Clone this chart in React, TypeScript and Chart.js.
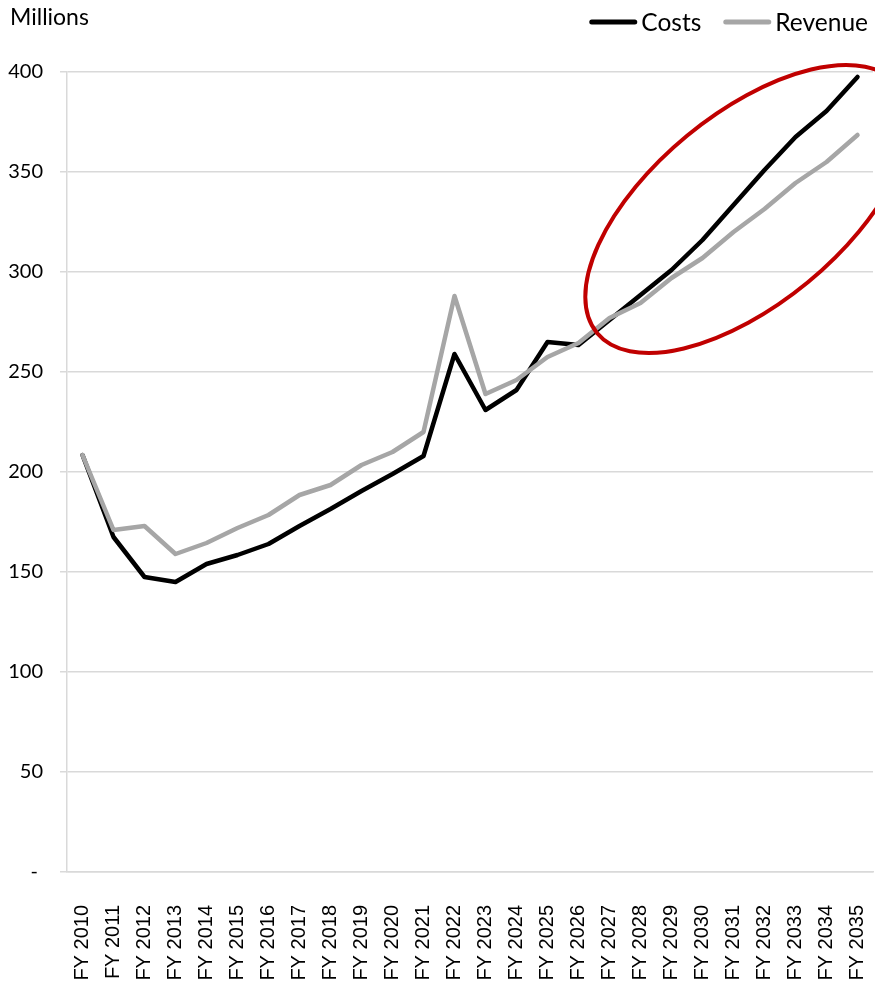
import React, { useEffect, useRef } from "react";
import { Chart, registerables } from "chart.js";

Chart.register(...registerables);

const years: string[] = [
  "FY 2010", "FY 2011", "FY 2012", "FY 2013", "FY 2014", "FY 2015", "FY 2016",
  "FY 2017", "FY 2018", "FY 2019", "FY 2020", "FY 2021", "FY 2022", "FY 2023",
  "FY 2024", "FY 2025", "FY 2026", "FY 2027", "FY 2028", "FY 2029", "FY 2030",
  "FY 2031", "FY 2032", "FY 2033", "FY 2034", "FY 2035",
];

const costs: number[] = [
  208.5, 167.5, 147.5, 145, 154, 158.5, 164, 173, 181.5, 190.5, 199, 208,
  259, 231, 241, 265, 263.5, 276, 288.5, 301, 316, 333.5, 351, 367.5, 380.5, 397.5,
];

const revenue: number[] = [
  208.5, 171, 173, 159, 164.5, 172, 178.5, 188.5, 193.5, 203.5, 210, 220,
  288, 239, 246, 257.5, 264.5, 277, 284.5, 297, 307, 320, 331.5, 344.5, 355, 368.5,
];

const yTicks: number[] = [0, 50, 100, 150, 200, 250, 300, 350, 400];
const yAxisTitle = "Millions";

// highlight ellipse annotation (center in data units)
const highlight = { xIndex: 21.45, yValue: 331.5 };

const ellipsePlugin = {
  id: "highlightEllipse",
  afterDatasetsDraw(chart: any) {
    const { ctx, scales } = chart;
    const cx = scales.x.getPixelForValue(highlight.xIndex);
    const cy = scales.y.getPixelForValue(highlight.yValue);
    ctx.save();
    ctx.beginPath();
    ctx.ellipse(cx, cy, 195, 95, (-39.5 * Math.PI) / 180, 0, Math.PI * 2);
    ctx.strokeStyle = "#C00000";
    ctx.lineWidth = 4;
    ctx.stroke();
    ctx.restore();
  },
};

const titlePlugin = {
  id: "yTitle",
  afterDraw(chart: any) {
    const { ctx } = chart;
    ctx.save();
    ctx.font = "23px Lato";
    ctx.fillStyle = "#000";
    ctx.textAlign = "left";
    ctx.textBaseline = "middle";
    ctx.fillText(yAxisTitle, 10, 18);
    ctx.restore();
  },
};

// custom legend: right aligned, line sample + label
const legendPlugin = {
  id: "customLegend",
  afterDraw(chart: any) {
    const { ctx } = chart;
    const ds = chart.data.datasets;
    const lineLen = 48;
    const gapText = 4;
    const gapItems = 22;
    const y = 22;
    ctx.save();
    ctx.font = "24.5px Lato";
    ctx.textBaseline = "middle";
    ctx.textAlign = "left";
    let x = chart.width - 7;
    const widths = ds.map((d: any) => ctx.measureText(d.label).width);
    for (let i = ds.length - 1; i >= 0; i--) {
      const tw = widths[i];
      const textX = x - tw;
      const lineEnd = textX - gapText;
      const lineStart = lineEnd - lineLen;
      ctx.beginPath();
      ctx.moveTo(lineStart + 2.5, y);
      ctx.lineTo(lineEnd - 2.5, y);
      ctx.strokeStyle = ds[i].borderColor;
      ctx.lineWidth = 5;
      ctx.lineCap = "round";
      ctx.stroke();
      ctx.fillStyle = "#000";
      ctx.fillText(ds[i].label, textX, y + 1);
      x = lineStart - gapItems;
    }
    ctx.restore();
  },
};

export default function App() {
  const ref = useRef<HTMLCanvasElement | null>(null);

  useEffect(() => {
    if (!ref.current) return;
    const chart = new Chart(ref.current, {
      type: "line",
      data: {
        labels: years,
        datasets: [
          {
            label: "Costs",
            data: costs,
            borderColor: "#000000",
            backgroundColor: "#000000",
            borderWidth: 4.5,
            pointRadius: 0,
            tension: 0,
            borderCapStyle: "round",
            borderJoinStyle: "round",
            order: 1,
          },
          {
            label: "Revenue",
            data: revenue,
            borderColor: "#A6A6A6",
            backgroundColor: "#A6A6A6",
            borderWidth: 4.5,
            pointRadius: 0,
            tension: 0,
            borderCapStyle: "round",
            borderJoinStyle: "round",
            order: 0,
          },
        ],
      },
      options: {
        animation: false,
        responsive: false,
        maintainAspectRatio: false,
        layout: { padding: { top: 0, right: 2, left: 0, bottom: 0 } },
        plugins: {
          legend: { display: false },
          tooltip: { enabled: false },
        },
        scales: {
          x: {
            type: "category",
            offset: true,
            grid: { display: false, drawTicks: false },
            border: { display: true, color: "#d9d9d9", width: 1.5 },
            ticks: {
              minRotation: 90,
              maxRotation: 90,
              autoSkip: false,
              padding: 33,
              color: "#000",
              font: { family: "Liberation Sans", size: 20 },
            },
            afterFit(scale: any) {
              scale.height = 115;
              scale.paddingLeft = 0;
              scale.paddingRight = 0;
            },
          },
          y: {
            min: 0,
            max: 400,
            afterBuildTicks(scale: any) {
              scale.ticks = yTicks.map((v) => ({ value: v }));
            },
            grid: { color: "#d9d9d9", lineWidth: 1.5, tickLength: 7 },
            border: { display: true, color: "#d9d9d9", width: 1.5 },
            ticks: {
              padding: 17,
              color: "#000",
              font: { family: "Lato", size: 20 },
              callback: (v: any) => (Number(v) === 0 ? "- " : String(v)),
            },
            afterFit(scale: any) {
              scale.width = 67;
              scale.paddingTop = 72;
              scale.paddingBottom = 0;
            },
          },
        },
      },
      plugins: [ellipsePlugin, titlePlugin, legendPlugin],
    });
    return () => chart.destroy();
  }, []);

  return (
    <div style={{ position: "absolute", left: 0, top: 0, width: 875, height: 987, background: "#fff" }}>
      <canvas ref={ref} width={875} height={987} />
    </div>
  );
}
